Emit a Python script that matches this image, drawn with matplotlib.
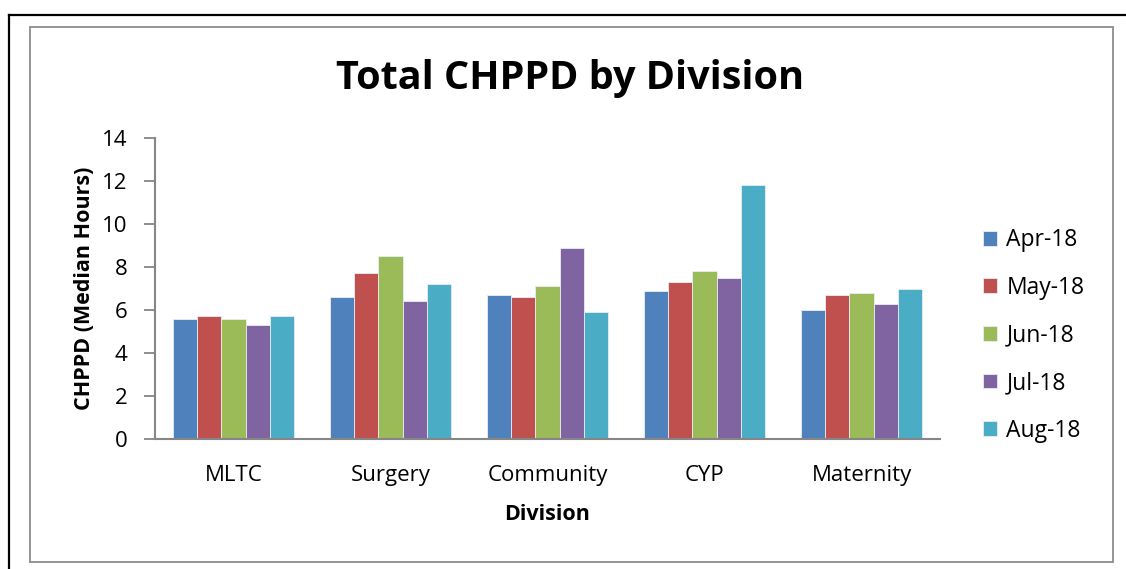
import matplotlib.pyplot as plt
import numpy as np
from matplotlib.lines import Line2D
from matplotlib.patches import Rectangle

plt.rcParams['font.family'] = ['Open Sans', 'DejaVu Sans']

divisions = ["MLTC", "Surgery", "Community", "CYP", "Maternity"]
months = ["Apr-18", "May-18", "Jun-18", "Jul-18", "Aug-18"]
apr = [5.6, 6.6, 6.7, 6.9, 6.0]
may = [5.7, 7.7, 6.6, 7.3, 6.7]
jun = [5.6, 8.5, 7.1, 7.8, 6.8]
jul = [5.3, 6.4, 8.9, 7.5, 6.3]
aug = [5.7, 7.2, 5.9, 11.8, 7.0]
colors = ["#4F81BD", "#C0504D", "#9BBB59", "#8064A2", "#4BACC6"]

W, H = 1126, 569
figure = plt.figure(figsize=(W / 100, H / 100), dpi=100)
figure.patch.set_facecolor("white")

# frames: outer black line (top/left) and grey chart area border
figure.add_artist(Line2D([9 / W, 1.0], [1 - 15 / H, 1 - 15 / H], color="black", linewidth=1.6))
figure.add_artist(Line2D([9 / W, 9 / W], [0, 1 - 15 / H], color="black", linewidth=1.6))
figure.add_artist(Rectangle((30 / W, 1 - 562 / H), (1113 - 30) / W, (562 - 27) / H,
                            fill=False, edgecolor="#8c8c8c", linewidth=1.3))

axes = figure.add_axes([155 / W, 1 - 439 / H, (940 - 155) / W, (439 - 138) / H])

series = [apr, may, jun, jul, aug]
x = np.arange(len(divisions))
bar_w = 0.154
for i, (vals, c, m) in enumerate(zip(series, colors, months)):
    axes.bar(x + (i - 2) * bar_w, vals, width=bar_w, color=c, label=m,
             edgecolor="#e8eef5", linewidth=0.6, zorder=2)

axes.set_xlim(-0.5, len(divisions) - 0.5)
axes.set_ylim(0, 14)
axes.set_yticks(np.arange(0, 15, 2))
axes.set_xticks(x)
axes.set_xticklabels(divisions, fontsize=16)
axes.tick_params(axis="x", length=0, pad=19)
axes.tick_params(axis="y", length=8, width=1.3, color="#868686", labelsize=16, pad=12)

for s in ["top", "right"]:
    axes.spines[s].set_visible(False)
for s in ["left", "bottom"]:
    axes.spines[s].set_color("#868686")
    axes.spines[s].set_linewidth(1.5)

axes.set_xlabel("Division", fontsize=15.5, fontweight="bold", labelpad=13)
axes.set_ylabel("CHPPD (Median Hours)", fontsize=15.5, fontweight="bold", labelpad=5)

figure.text(570 / W, 1 - 79 / H, "Total CHPPD by Division", fontsize=28.5, fontweight="bold",
            ha="center", va="center")

figure.legend(loc="center left", bbox_to_anchor=(983 / W, 1 - 335.5 / H), frameon=False,
              fontsize=16.5, handlelength=0.62, handleheight=0.62, handletextpad=0.4,
              labelspacing=1.03, borderpad=0, borderaxespad=0)

plt.savefig("out.png", dpi=100)
